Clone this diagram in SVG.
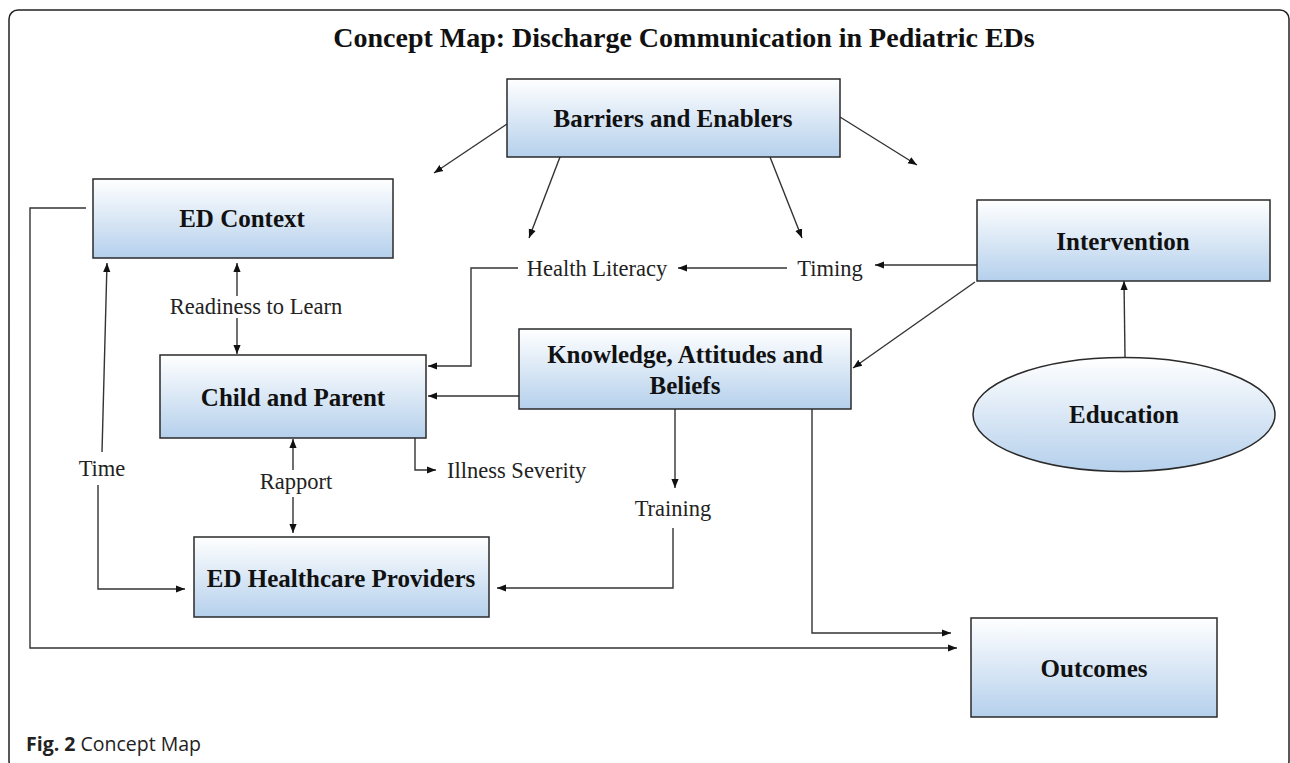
<svg xmlns="http://www.w3.org/2000/svg" width="1290" height="763" viewBox="0 0 1290 763">
<style>
.box{stroke:#2a2a2a;stroke-width:1.5;fill:url(#g)}
.nt{font-family:"Liberation Serif",serif;font-weight:bold;font-size:25px;fill:#111;text-anchor:middle}
.lb{font-family:"Liberation Serif",serif;font-size:22.5px;fill:#222;text-anchor:middle}
.ls{text-anchor:start}
.c{fill:none;stroke:#333;stroke-width:1.4}
.a{marker-end:url(#ah)}
</style>
<defs>
<linearGradient id="g" x1="0" y1="0" x2="0" y2="1">
<stop offset="0" stop-color="#ffffff"/>
<stop offset="1" stop-color="#b5d0ec"/>
</linearGradient>
<marker id="ah" viewBox="0 0 10 10" refX="10" refY="5" markerWidth="9" markerHeight="9" markerUnits="userSpaceOnUse" orient="auto">
<path d="M0,1 L10,5 L0,9 Z" fill="#111"/>
</marker>
</defs>
<rect x="0" y="0" width="1290" height="763" fill="#fff"/>
<rect x="9" y="10" width="1280" height="760" rx="9" fill="none" stroke="#222" stroke-width="1.5"/>
<text x="684" y="47" font-family="'Liberation Serif',serif" font-weight="bold" font-size="28" text-anchor="middle" fill="#111">Concept Map: Discharge Communication in Pediatric EDs</text>

<g id="connectors">
<line class="c a" x1="507" y1="124" x2="434" y2="173"/>
<line class="c a" x1="560" y1="157" x2="529" y2="238"/>
<line class="c a" x1="770" y1="157" x2="802" y2="238"/>
<line class="c a" x1="840" y1="117" x2="917" y2="165"/>
<polyline class="c a" points="86,208 30,208 30,648 957,648"/>
<line class="c a" x1="102" y1="452" x2="107" y2="263"/>
<polyline class="c a" points="98,485 98,589 185,589"/>
<line class="c a" x1="237" y1="296" x2="237" y2="263"/>
<line class="c a" x1="237" y1="318" x2="237" y2="354"/>
<line class="c a" x1="293" y1="470" x2="293" y2="439"/>
<line class="c a" x1="293" y1="497" x2="293" y2="533"/>
<polyline class="c a" points="415,438 415,470 436,470"/>
<polyline class="c a" points="518,268 471,268 471,366 428,366"/>
<line class="c a" x1="787" y1="268" x2="678" y2="268"/>
<line class="c a" x1="977" y1="265" x2="875" y2="265"/>
<line class="c a" x1="975" y1="282" x2="853" y2="368"/>
<line class="c a" x1="519" y1="396" x2="428" y2="396"/>
<line class="c a" x1="675" y1="409" x2="675" y2="488"/>
<polyline class="c a" points="673,528 673,588 497,588"/>
<polyline class="c a" points="812,409 812,633 951,633"/>
<line class="c a" x1="1125" y1="357" x2="1124" y2="281"/>
</g>

<g id="labels">
<text class="lb" x="256" y="314">Readiness to Learn</text>
<text class="lb" x="102" y="476">Time</text>
<text class="lb" x="296" y="489">Rapport</text>
<text class="lb ls" x="447" y="478">Illness Severity</text>
<text class="lb" x="597" y="276">Health Literacy</text>
<text class="lb" x="830" y="276">Timing</text>
<text class="lb" x="673" y="516">Training</text>
</g>

<g id="barriers"><rect class="box" x="507" y="79" width="333" height="78"/><text class="nt" x="673" y="127">Barriers and Enablers</text></g>
<g id="ed-context"><rect class="box" x="93" y="179" width="300" height="79"/><text class="nt" x="242" y="227">ED Context</text></g>
<g id="intervention"><rect class="box" x="977" y="200" width="293" height="81"/><text class="nt" x="1123" y="250">Intervention</text></g>
<g id="child-parent"><rect class="box" x="160" y="355" width="266" height="83"/><text class="nt" x="293" y="406">Child and Parent</text></g>
<g id="knowledge"><rect class="box" x="519" y="329" width="332" height="80"/><text class="nt" x="685" y="363">Knowledge, Attitudes and</text><text class="nt" x="685" y="394">Beliefs</text></g>
<g id="education"><ellipse class="box" cx="1124" cy="414.5" rx="151" ry="57"/><text class="nt" x="1124" y="423">Education</text></g>
<g id="providers"><rect class="box" x="194" y="537" width="295" height="80"/><text class="nt" x="341" y="587">ED Healthcare Providers</text></g>
<g id="outcomes"><rect class="box" x="971" y="618" width="246" height="99"/><text class="nt" x="1094" y="677">Outcomes</text></g>

<text x="26" y="751" font-family="'Open Sans',sans-serif" font-size="19.5" fill="#222"><tspan font-weight="bold">Fig. 2</tspan> Concept Map</text>
</svg>
